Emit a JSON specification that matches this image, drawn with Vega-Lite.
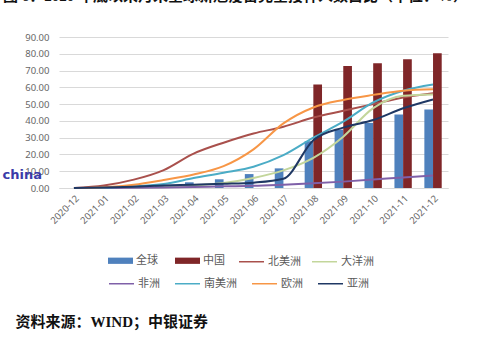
{
  "$schema": "https://vega.github.io/schema/vega-lite/v6.json",
  "width": 389,
  "height": 151,
  "autosize": {"type": "none"},
  "padding": {"left": 59, "top": 37, "right": 35, "bottom": 165},
  "background": "white",
  "config": {
    "view": {"stroke": null},
    "axis": {"labelColor": "#666666", "labelFont": "Noto Sans", "labelFontSize": 9.5, "domainColor": "#d9d9d9", "gridColor": "#d9d9d9", "ticks": false},
    "legend": {"title": null, "orient": "none", "labelFont": "Noto Sans CJK SC", "labelFontSize": 11, "labelColor": "#595959", "labelOffset": 3, "symbolSize": 625, "padding": 0}
  },
  "title": {
    "text": "图 6：2020 年底以来月末全球新冠疫苗完全接种人数占比（单位：%）",
    "anchor": "start",
    "frame": "group",
    "dx": -56,
    "offset": 28,
    "font": "Liberation Serif, Noto Sans CJK SC",
    "fontSize": 15,
    "fontWeight": "bold",
    "color": "#111111"
  },
  "data": {
    "values": [
      {"month": "2020-12", "series": "全球", "value": 0},
      {"month": "2021-01", "series": "全球", "value": 0.2},
      {"month": "2021-02", "series": "全球", "value": 0.5},
      {"month": "2021-03", "series": "全球", "value": 1.3},
      {"month": "2021-04", "series": "全球", "value": 3.4},
      {"month": "2021-05", "series": "全球", "value": 5.2},
      {"month": "2021-06", "series": "全球", "value": 8.3},
      {"month": "2021-07", "series": "全球", "value": 11.7},
      {"month": "2021-08", "series": "全球", "value": 27.9},
      {"month": "2021-09", "series": "全球", "value": 34.8},
      {"month": "2021-10", "series": "全球", "value": 38.8},
      {"month": "2021-11", "series": "全球", "value": 43.8},
      {"month": "2021-12", "series": "全球", "value": 46.8},
      {"month": "2021-08", "series": "中国", "value": 61.7},
      {"month": "2021-09", "series": "中国", "value": 72.7},
      {"month": "2021-10", "series": "中国", "value": 74.3},
      {"month": "2021-11", "series": "中国", "value": 76.7},
      {"month": "2021-12", "series": "中国", "value": 80.3},
      {"month": "2020-12", "series": "北美洲", "value": 0},
      {"month": "2021-01", "series": "北美洲", "value": 1.5},
      {"month": "2021-02", "series": "北美洲", "value": 5},
      {"month": "2021-03", "series": "北美洲", "value": 10.7},
      {"month": "2021-04", "series": "北美洲", "value": 20.5},
      {"month": "2021-05", "series": "北美洲", "value": 27},
      {"month": "2021-06", "series": "北美洲", "value": 32.5},
      {"month": "2021-07", "series": "北美洲", "value": 36.5},
      {"month": "2021-08", "series": "北美洲", "value": 42},
      {"month": "2021-09", "series": "北美洲", "value": 46},
      {"month": "2021-10", "series": "北美洲", "value": 50},
      {"month": "2021-11", "series": "北美洲", "value": 54},
      {"month": "2021-12", "series": "北美洲", "value": 56.5},
      {"month": "2020-12", "series": "大洋洲", "value": 0},
      {"month": "2021-01", "series": "大洋洲", "value": 0},
      {"month": "2021-02", "series": "大洋洲", "value": 0.2},
      {"month": "2021-03", "series": "大洋洲", "value": 0.5},
      {"month": "2021-04", "series": "大洋洲", "value": 1.5},
      {"month": "2021-05", "series": "大洋洲", "value": 3},
      {"month": "2021-06", "series": "大洋洲", "value": 6},
      {"month": "2021-07", "series": "大洋洲", "value": 10.5},
      {"month": "2021-08", "series": "大洋洲", "value": 18},
      {"month": "2021-09", "series": "大洋洲", "value": 30.6},
      {"month": "2021-10", "series": "大洋洲", "value": 47.6},
      {"month": "2021-11", "series": "大洋洲", "value": 55},
      {"month": "2021-12", "series": "大洋洲", "value": 55.8},
      {"month": "2020-12", "series": "非洲", "value": 0},
      {"month": "2021-01", "series": "非洲", "value": 0},
      {"month": "2021-02", "series": "非洲", "value": 0.1},
      {"month": "2021-03", "series": "非洲", "value": 0.3},
      {"month": "2021-04", "series": "非洲", "value": 0.6},
      {"month": "2021-05", "series": "非洲", "value": 1},
      {"month": "2021-06", "series": "非洲", "value": 1.3},
      {"month": "2021-07", "series": "非洲", "value": 2},
      {"month": "2021-08", "series": "非洲", "value": 2.8},
      {"month": "2021-09", "series": "非洲", "value": 3.8},
      {"month": "2021-10", "series": "非洲", "value": 5},
      {"month": "2021-11", "series": "非洲", "value": 6.3},
      {"month": "2021-12", "series": "非洲", "value": 7.5},
      {"month": "2020-12", "series": "南美洲", "value": 0},
      {"month": "2021-01", "series": "南美洲", "value": 0.2},
      {"month": "2021-02", "series": "南美洲", "value": 1},
      {"month": "2021-03", "series": "南美洲", "value": 2.4},
      {"month": "2021-04", "series": "南美洲", "value": 5.9},
      {"month": "2021-05", "series": "南美洲", "value": 9.1},
      {"month": "2021-06", "series": "南美洲", "value": 12.7},
      {"month": "2021-07", "series": "南美洲", "value": 19.6},
      {"month": "2021-08", "series": "南美洲", "value": 30},
      {"month": "2021-09", "series": "南美洲", "value": 39.5},
      {"month": "2021-10", "series": "南美洲", "value": 51},
      {"month": "2021-11", "series": "南美洲", "value": 58},
      {"month": "2021-12", "series": "南美洲", "value": 61.7},
      {"month": "2020-12", "series": "欧洲", "value": 0},
      {"month": "2021-01", "series": "欧洲", "value": 0.5},
      {"month": "2021-02", "series": "欧洲", "value": 2},
      {"month": "2021-03", "series": "欧洲", "value": 4.8},
      {"month": "2021-04", "series": "欧洲", "value": 8},
      {"month": "2021-05", "series": "欧洲", "value": 13},
      {"month": "2021-06", "series": "欧洲", "value": 23},
      {"month": "2021-07", "series": "欧洲", "value": 38.5},
      {"month": "2021-08", "series": "欧洲", "value": 48},
      {"month": "2021-09", "series": "欧洲", "value": 52.5},
      {"month": "2021-10", "series": "欧洲", "value": 55.5},
      {"month": "2021-11", "series": "欧洲", "value": 58},
      {"month": "2021-12", "series": "欧洲", "value": 58.8},
      {"month": "2020-12", "series": "亚洲", "value": 0},
      {"month": "2021-01", "series": "亚洲", "value": 0.3},
      {"month": "2021-02", "series": "亚洲", "value": 0.8},
      {"month": "2021-03", "series": "亚洲", "value": 1.5},
      {"month": "2021-04", "series": "亚洲", "value": 2},
      {"month": "2021-05", "series": "亚洲", "value": 2.5},
      {"month": "2021-06", "series": "亚洲", "value": 3.2},
      {"month": "2021-07", "series": "亚洲", "value": 5.5},
      {"month": "2021-08", "series": "亚洲", "value": 28.5},
      {"month": "2021-09", "series": "亚洲", "value": 36},
      {"month": "2021-10", "series": "亚洲", "value": 40.5},
      {"month": "2021-11", "series": "亚洲", "value": 47.5},
      {"month": "2021-12", "series": "亚洲", "value": 52.8}
    ]
  },
  "encoding": {
    "x": {
      "field": "month",
      "type": "ordinal",
      "scale": {"paddingInner": 0.42, "paddingOuter": 0.21},
      "axis": {
        "labelAngle": -45,
        "labelPadding": 5,
        "grid": false,
        "title": "资料来源：WIND；中银证券",
        "titleX": -44,
        "titleY": 138,
        "titleAlign": "left",
        "titleBaseline": "alphabetic",
        "titleFont": "Liberation Serif, Noto Sans CJK SC",
        "titleFontSize": 15,
        "titleFontWeight": "bold",
        "titleColor": "#111111"
      }
    },
    "y": {
      "field": "value",
      "type": "quantitative",
      "scale": {"domain": [0, 90]},
      "axis": {
        "values": [0, 10, 20, 30, 40, 50, 60, 70, 80, 90],
        "format": ".2f",
        "domain": false,
        "labelPadding": 10,
        "title": "china",
        "titleAngle": 0,
        "titleX": -57,
        "titleY": 141,
        "titleAlign": "left",
        "titleBaseline": "alphabetic",
        "titleFont": "DejaVu Sans",
        "titleFontSize": 13,
        "titleFontWeight": "bold",
        "titleColor": "#3a3aa8"
      }
    }
  },
  "layer": [
    {
      "transform": [{"filter": {"field": "series", "oneOf": ["全球", "中国"]}}],
      "mark": {"type": "bar"},
      "encoding": {
        "xOffset": {"field": "series", "type": "nominal", "sort": ["全球", "中国"], "scale": {"domain": ["全球", "中国"], "range": [0, 17.35], "paddingInner": 0, "paddingOuter": 0}},
        "fill": {
          "field": "series",
          "type": "nominal",
          "scale": {"domain": ["全球", "中国"], "range": ["#4f81bd", "#7f2628"]},
          "legend": {"legendX": 49, "legendY": 211, "columns": 2, "columnPadding": 17, "symbolType": "M-1,-0.25H1V0.25H-1Z", "symbolStrokeWidth": 0}
        }
      }
    },
    {
      "transform": [{"filter": {"field": "series", "oneOf": ["北美洲", "大洋洲"]}}],
      "mark": {"type": "line", "strokeWidth": 2, "interpolate": "monotone"},
      "encoding": {
        "stroke": {
          "field": "series",
          "type": "nominal",
          "scale": {"domain": ["北美洲", "大洋洲"], "range": ["#a9504c", "#c3d69b"]},
          "legend": {"legendX": 179, "legendY": 211, "columns": 2, "columnPadding": 8, "symbolType": "stroke", "symbolStrokeWidth": 1.5}
        }
      }
    },
    {
      "transform": [{"filter": {"field": "series", "oneOf": ["非洲", "南美洲", "欧洲", "亚洲"]}}],
      "mark": {"type": "line", "strokeWidth": 2, "interpolate": "monotone"},
      "encoding": {
        "color": {
          "field": "series",
          "type": "nominal",
          "scale": {"domain": ["非洲", "南美洲", "欧洲", "亚洲"], "range": ["#7f60a8", "#4bacc6", "#f79646", "#1f3864"]},
          "legend": {"legendX": 49, "legendY": 233, "columns": 4, "columnPadding": 12, "symbolType": "stroke", "symbolStrokeWidth": 1.5}
        }
      }
    }
  ]
}
